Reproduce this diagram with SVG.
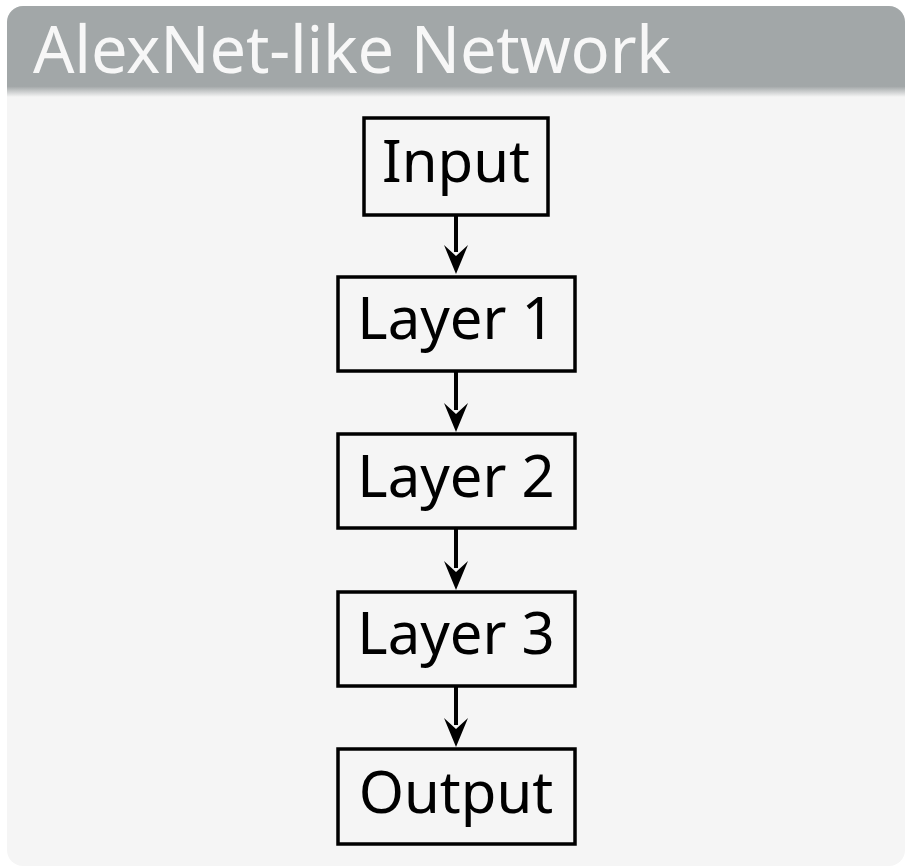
<svg xmlns="http://www.w3.org/2000/svg" width="905" height="867" viewBox="0 0 905 867">
  <defs>
    <clipPath id="panelClip">
      <rect x="7" y="6" width="898" height="860" rx="16" ry="16"/>
    </clipPath>
    <linearGradient id="hdrShade" x1="0" y1="0" x2="0" y2="1">
      <stop offset="0" stop-color="#9fa4a5"/>
      <stop offset="1" stop-color="#f5f5f5"/>
    </linearGradient>
  </defs>
  <style>
    .box { fill: none; stroke: #000; stroke-width: 3.5; }
    .lbl { font-family: "Noto Sans", "Open Sans", sans-serif; font-size: 58px; fill: #000; text-anchor: middle; }
    .title { font-family: "Noto Sans", "Open Sans", sans-serif; font-size: 65px; fill: #f7f7f7; }
    .edge { stroke: #000; stroke-width: 4; fill: none; }
    .head { fill: #000; }
  </style>
  <g id="panel" clip-path="url(#panelClip)">
    <rect x="7" y="6" width="898" height="860" fill="#f5f5f5"/>
    <rect x="7" y="6" width="898" height="82" fill="#a2a7a8"/>
    <rect x="7" y="86" width="898" height="11" fill="url(#hdrShade)"/>
    <text class="title" x="33" y="73" textLength="638" lengthAdjust="spacing">AlexNet-like Network</text>
  </g>
  <g id="connectors">
    <line class="edge" x1="456" y1="216" x2="456" y2="252"/>
    <path class="head" d="M444,245 L456,274 L468,245 L456,256 Z"/>
    <line class="edge" x1="456" y1="372" x2="456" y2="410"/>
    <path class="head" d="M444,403 L456,432 L468,403 L456,414 Z"/>
    <line class="edge" x1="456" y1="529" x2="456" y2="568"/>
    <path class="head" d="M444,561 L456,590 L468,561 L456,572 Z"/>
    <line class="edge" x1="456" y1="687" x2="456" y2="725"/>
    <path class="head" d="M444,718 L456,747 L468,718 L456,729 Z"/>
  </g>
  <g id="node-input">
    <rect class="box" x="364" y="118" width="184" height="97"/>
    <text class="lbl" x="456" y="182">Input</text>
  </g>
  <g id="node-layer1">
    <rect class="box" x="338" y="277" width="237" height="94"/>
    <text class="lbl" x="456" y="339">Layer 1</text>
  </g>
  <g id="node-layer2">
    <rect class="box" x="338" y="434" width="237" height="94"/>
    <text class="lbl" x="456" y="497">Layer 2</text>
  </g>
  <g id="node-layer3">
    <rect class="box" x="338" y="592" width="237" height="94"/>
    <text class="lbl" x="456" y="654">Layer 3</text>
  </g>
  <g id="node-output">
    <rect class="box" x="338" y="749" width="237" height="95"/>
    <text class="lbl" x="456" y="813">Output</text>
  </g>
</svg>
